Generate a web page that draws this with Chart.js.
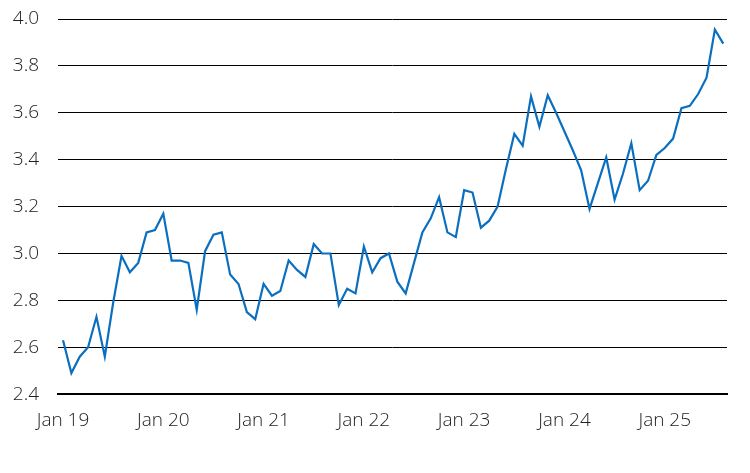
<!DOCTYPE html>
<html>
<head>
<meta charset="utf-8">
<script src="https://cdn.jsdelivr.net/npm/chart.js@4"></script>
<style>
  html, body { margin: 0; padding: 0; background: #fff; }
  #wrap { width: 750px; height: 473px; }
</style>
</head>
<body>
<div id="wrap"><canvas id="myChart"></canvas></div>
<script>
// monthly values, Jan 2019 .. Aug 2025
const values = [
  2.63, 2.49, 2.56, 2.60, 2.73, 2.56, 2.79, 2.99, 2.92, 2.96, 3.09, 3.10,
  3.17, 2.97, 2.97, 2.96, 2.76, 3.01, 3.08, 3.09, 2.91, 2.87, 2.75, 2.72,
  2.87, 2.82, 2.84, 2.97, 2.93, 2.90, 3.04, 3.00, 3.00, 2.78, 2.85, 2.83,
  3.03, 2.92, 2.98, 3.00, 2.88, 2.83, 2.96, 3.09, 3.15, 3.24, 3.09, 3.07,
  3.27, 3.26, 3.11, 3.14, 3.20, 3.36, 3.51, 3.46, 3.67, 3.54, 3.675, 3.60,
  3.52, 3.44, 3.355, 3.19, 3.30, 3.41, 3.23, 3.34, 3.47, 3.27, 3.31, 3.42,
  3.45, 3.49, 3.62, 3.63, 3.68, 3.75, 3.955, 3.895
];
const tickLabels = ['Jan 19', 'Jan 20', 'Jan 21', 'Jan 22', 'Jan 23', 'Jan 24', 'Jan 25'];
const yTicks = [2.4, 2.6, 2.8, 3.0, 3.2, 3.4, 3.6, 3.8, 4.0];

const points = values.map((v, i) => ({ x: i, y: v }));

const tickFont = { family: "'Open Sans', sans-serif", size: 19, weight: 300 };

const ctx = document.getElementById('myChart');
let myChart = new Chart(ctx, {
  type: 'line',
  data: {
    datasets: [{
      data: points,
      borderColor: '#0b6fc0',
      borderWidth: 2.2,
      pointRadius: 0,
      fill: false,
      tension: 0
    }]
  },
  options: {
    responsive: true,
    maintainAspectRatio: false,
    animation: false,
    layout: { padding: { top: 19, right: 23, left: 0, bottom: 26 } },
    plugins: { legend: { display: false }, tooltip: { enabled: false } },
    scales: {
      x: {
        type: 'linear',
        min: -0.6,
        max: 79.45,
        afterBuildTicks: axis => { axis.ticks = tickLabels.map((t, i) => ({ value: i * 12 })); },
        ticks: {
          font: tickFont,
          color: '#222',
          padding: 15,
          maxRotation: 0,
          autoSkip: false,
          callback: v => tickLabels[v / 12]
        },
        grid: { display: false, drawTicks: false },
        border: { display: true, color: '#000', width: 2 }
      },
      y: {
        min: 2.4,
        max: 4.0,
        afterBuildTicks: axis => { axis.ticks = yTicks.map(v => ({ value: v })); },
        afterFit: axis => {
          axis.width = 58;
          axis.paddingTop = 0;
          axis.paddingBottom = 0;
        },
        ticks: {
          font: tickFont,
          color: '#222',
          padding: 19,
          callback: v => v.toFixed(1)
        },
        grid: { color: '#000', lineWidth: 1, drawTicks: false },
        border: { display: false }
      }
    }
  }
});
</script>
</body>
</html>
